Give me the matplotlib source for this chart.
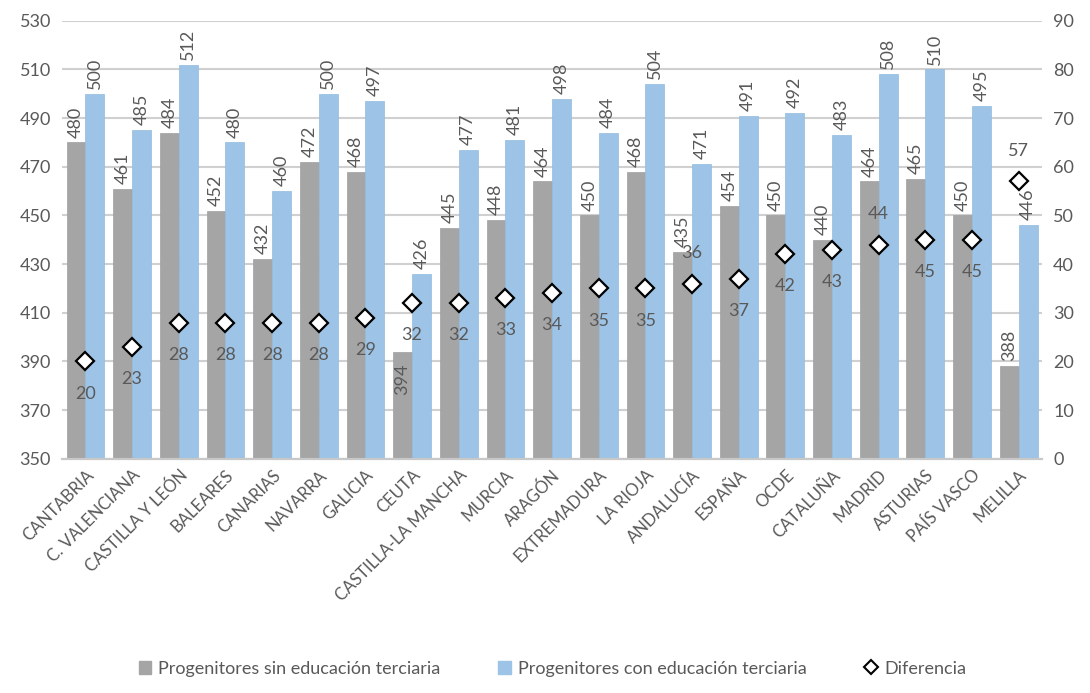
import numpy as np
import matplotlib
matplotlib.use("Agg")
import matplotlib.pyplot as plt
from matplotlib.lines import Line2D
from matplotlib.patches import Patch

plt.rcParams['font.family'] = ['Lato', 'DejaVu Sans']

# regions / countries
regiones = ['CANTABRIA', 'C. VALENCIANA', 'CASTILLA Y LEÓN', 'BALEARES', 'CANARIAS',
            'NAVARRA', 'GALICIA', 'CEUTA', 'CASTILLA-LA MANCHA', 'MURCIA', 'ARAGÓN',
            'EXTREMADURA', 'LA RIOJA', 'ANDALUCÍA', 'ESPAÑA', 'OCDE', 'CATALUÑA',
            'MADRID', 'ASTURIAS', 'PAÍS VASCO', 'MELILLA']

# scores
sin_terciaria = [480, 461, 484, 452, 432, 472, 468, 394, 445, 448, 464,
                 450, 468, 435, 454, 450, 440, 464, 465, 450, 388]
con_terciaria = [500, 485, 512, 480, 460, 500, 497, 426, 477, 481, 498,
                 484, 504, 471, 491, 492, 483, 508, 510, 495, 446]
diferencia = [20, 23, 28, 28, 28, 28, 29, 32, 32, 33, 34,
              35, 35, 36, 37, 42, 43, 44, 45, 45, 57]

# labels drawn above the diamond instead of below
diff_arriba = ['ANDALUCÍA', 'MADRID', 'MELILLA']

gris = '#A5A5A5'
azul = '#9DC3E6'
txt = '#595959'

fig = plt.figure(figsize=(10.9, 6.93), dpi=100)
ax = fig.add_axes([0.057, 0.338, 0.899, 0.632])
ax2 = ax.twinx()

x = np.arange(len(regiones))
w = 0.405
ax.bar(x - w / 2, sin_terciaria, w, color=gris, edgecolor='#a0a0a0', linewidth=0.5, zorder=2)
ax.bar(x + w / 2, con_terciaria, w, color=azul, edgecolor='#93bbe0', linewidth=0.5, zorder=2)

ax.set_ylim(350, 530)
ax.set_yticks(np.arange(350, 531, 20))
ax.set_xlim(-0.5, len(regiones) - 0.5)
ax.grid(axis='y', color='#D0D0D0', linewidth=1.5, zorder=0)
ax.set_axisbelow(True)

for i, r in enumerate(regiones):
    v = sin_terciaria[i]
    if r == 'CEUTA':
        ax.text(i - w / 2, v - 5, str(v), rotation=90, ha='center', va='top',
                fontsize=13, color=txt, zorder=5)
    else:
        ax.text(i - w / 2, v + 2, str(v), rotation=90, ha='center', va='bottom',
                fontsize=13, color=txt, zorder=5)
    v = con_terciaria[i]
    ax.text(i + w / 2, v + 2, str(v), rotation=90, ha='center', va='bottom',
            fontsize=13, color=txt, zorder=5)

ax2.plot(x, diferencia, linestyle='none', marker='D', markersize=9.5,
         markerfacecolor='white', markeredgecolor='black', markeredgewidth=1.6, zorder=6)
ax2.set_ylim(0, 90)
ax2.set_yticks(np.arange(0, 91, 10))
for i, r in enumerate(regiones):
    d = diferencia[i]
    off = 6.3 if r in diff_arriba else -6.6
    ax2.text(i, d + off, str(d), ha='center', va='center', fontsize=13, color=txt, zorder=7)

ax.set_xticks(x)
ax.set_xticklabels(regiones, rotation=45, ha='right', rotation_mode='anchor',
                   fontsize=12, color=txt)
ax.tick_params(axis='x', length=0, pad=6)
ax.tick_params(axis='y', length=0, labelsize=13, labelcolor=txt, pad=8)
ax2.tick_params(axis='y', length=0, labelsize=13, labelcolor=txt, pad=8)

for a in (ax, ax2):
    for s in ('top', 'left', 'right'):
        a.spines[s].set_visible(False)
    a.spines['bottom'].set_color('#C8C8C8')
    a.spines['bottom'].set_linewidth(1.5)

handles = [Patch(facecolor=gris, edgecolor=gris),
           Patch(facecolor=azul, edgecolor=azul),
           Line2D([], [], linestyle='none', marker='D', markersize=7,
                  markerfacecolor='white', markeredgecolor='black', markeredgewidth=1.5)]
labels = ['Progenitores sin educación terciaria', 'Progenitores con educación terciaria', 'Diferencia']
leg = fig.legend(handles, labels, loc='lower center', bbox_to_anchor=(0.507, 0.0), ncol=3,
                 frameon=False, fontsize=13, handlelength=0.7, handleheight=0.7,
                 handletextpad=0.4, columnspacing=3.2)
for t in leg.get_texts():
    t.set_color(txt)

fig.savefig('out.png', dpi=100)
